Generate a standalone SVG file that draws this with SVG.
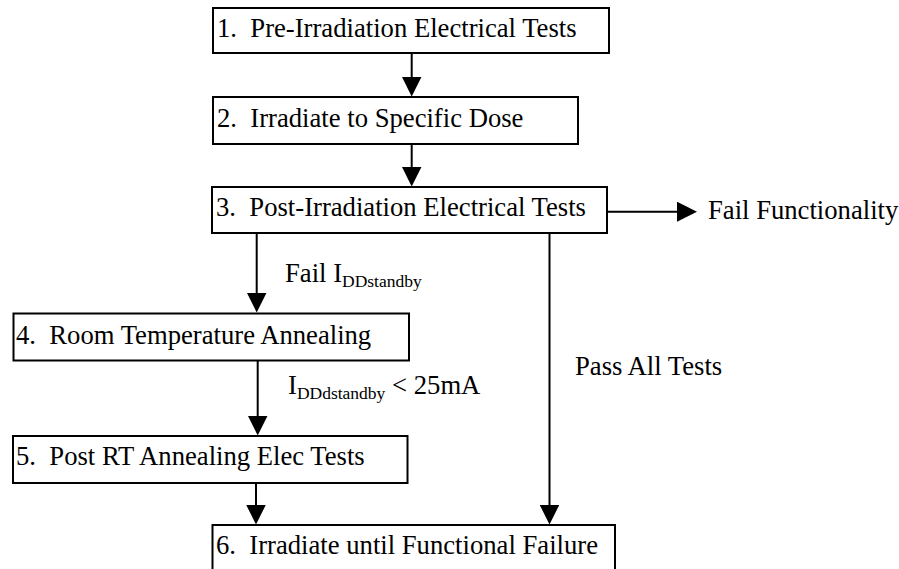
<svg xmlns="http://www.w3.org/2000/svg" width="899" height="569" viewBox="0 0 899 569" xml:space="preserve">
  <style>
    .box { fill: #ffffff; stroke: #000000; stroke-width: 2; }
    .lbl { font-family: "Liberation Serif", "Times New Roman", serif; font-size: 26.67px; fill: #000000; white-space: pre; }
    .sub { font-size: 17.5px; }
    .wire { stroke: #000000; stroke-width: 2; fill: none; marker-end: url(#head); }
  </style>
  <defs>
    <marker id="head" markerUnits="userSpaceOnUse" markerWidth="20" markerHeight="20" refX="12" refY="10" orient="auto">
      <path d="M0,0 L20,10 L0,20 Z" fill="#000000"/>
    </marker>
  </defs>

  <rect width="899" height="569" fill="#ffffff"/>

  <!-- connectors -->
  <g id="connectors">
    <line class="wire" x1="411.7" y1="53" x2="411.7" y2="88.5"/>
    <line class="wire" x1="411.7" y1="144" x2="411.7" y2="178.5"/>
    <line class="wire" x1="607" y1="211.7" x2="689" y2="211.7"/>
    <line class="wire" x1="256.7" y1="233" x2="256.7" y2="304.5"/>
    <line class="wire" x1="257.7" y1="361" x2="257.7" y2="427.5"/>
    <line class="wire" x1="256" y1="483" x2="256" y2="516.5"/>
    <line class="wire" x1="549.5" y1="233" x2="549.5" y2="516.5"/>
    <text class="lbl" x="708" y="219">Fail Functionality</text>
    <text class="lbl" x="285" y="282">Fail I<tspan class="sub" dy="4.5">DDstandby</tspan></text>
    <text class="lbl" x="288" y="394">I<tspan class="sub" dy="4.5">DDdstandby</tspan><tspan dy="-4.5"> &lt; 25mA</tspan></text>
    <text class="lbl" x="575" y="375">Pass All Tests</text>
  </g>

  <!-- process steps -->
  <g id="step1">
    <rect class="box" x="213" y="8" width="396" height="45"/>
    <text class="lbl" x="217" y="37">1.  Pre-Irradiation Electrical Tests</text>
  </g>
  <g id="step2">
    <rect class="box" x="213" y="97" width="365" height="47"/>
    <text class="lbl" x="217" y="127">2.  Irradiate to Specific Dose</text>
  </g>
  <g id="step3">
    <rect class="box" x="212" y="187" width="395" height="46"/>
    <text class="lbl" x="216" y="216">3.  Post-Irradiation Electrical Tests</text>
  </g>
  <g id="step4">
    <rect class="box" x="13.5" y="313.5" width="395.5" height="47"/>
    <text class="lbl" x="16" y="344">4.  Room Temperature Annealing</text>
  </g>
  <g id="step5">
    <rect class="box" x="13" y="436" width="394.5" height="47"/>
    <text class="lbl" x="16" y="465">5.  Post RT Annealing Elec Tests</text>
  </g>
  <g id="step6">
    <rect class="box" x="212.5" y="525" width="402.5" height="60"/>
    <text class="lbl" x="216" y="554">6.  Irradiate until Functional Failure</text>
  </g>
</svg>
